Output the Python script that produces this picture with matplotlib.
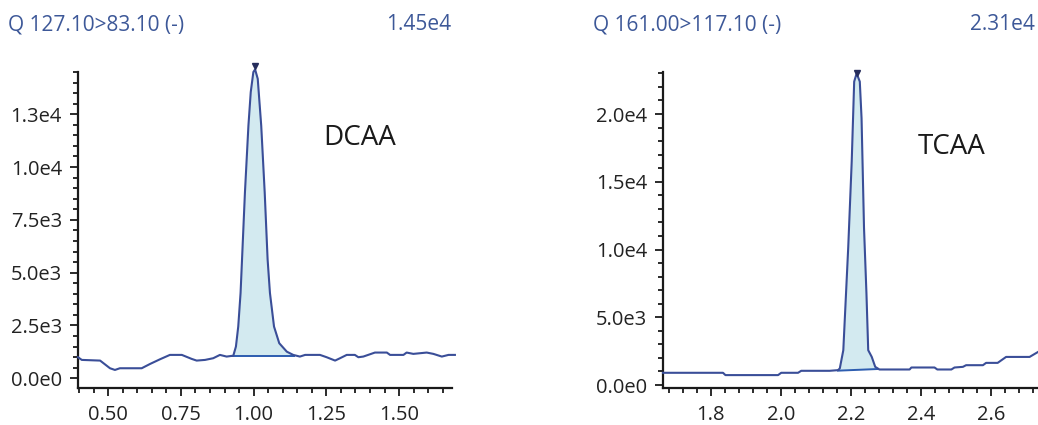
import numpy as np
import matplotlib
matplotlib.use("Agg")
import matplotlib.pyplot as plt
from matplotlib.ticker import MultipleLocator, FixedLocator

plt.rcParams['font.family'] = ['Open Sans', 'DejaVu Sans']

# ---------------- data ----------------
dcaa_time = [0.396, 0.409, 0.472, 0.506, 0.523, 0.540, 0.615, 0.644, 0.678, 0.712,
             0.753, 0.787, 0.804, 0.833, 0.861, 0.884, 0.907, 0.930, 0.939, 0.947,
             0.955, 0.960, 0.970, 0.982, 0.990, 0.999, 1.005, 1.014, 1.026, 1.038,
             1.048, 1.056, 1.070, 1.088, 1.114, 1.136, 1.159, 1.177, 1.228, 1.251,
             1.280, 1.297, 1.320, 1.348, 1.360, 1.377, 1.417, 1.458, 1.469, 1.515,
             1.526, 1.549, 1.595, 1.618, 1.647, 1.670, 1.692]
dcaa_int = [997, 870, 838, 475, 395, 475, 475, 680, 900, 1107,
            1107, 917, 838, 870, 950, 1107, 1028, 1070, 1500, 2450,
            4040, 5620, 8790, 11960, 13550, 14500, 14620, 14180, 11960, 8790,
            5620, 4040, 2450, 1660, 1260, 1107, 1028, 1107, 1107, 997,
            838, 950, 1107, 1107, 997, 1028, 1218, 1218, 1107, 1107,
            1218, 1155, 1218, 1155, 1028, 1107, 1107]
dcaa_base_t = [0.925, 1.140]
dcaa_base_v = [1040, 1040]
dcaa_apex = (1.005, 14800)

tcaa_time = [1.664, 1.835, 1.842, 1.992, 2.001, 2.049, 2.058, 2.139, 2.163, 2.168,
             2.178, 2.192, 2.202, 2.209, 2.216, 2.225, 2.230, 2.237, 2.244, 2.249,
             2.259, 2.269, 2.281, 2.367, 2.372, 2.438, 2.446, 2.486, 2.495, 2.519,
             2.528, 2.576, 2.585, 2.618, 2.642, 2.709, 2.733]
tcaa_int = [902, 902, 732, 732, 902, 902, 1049, 1049, 1098, 1226,
            2570, 10150, 16520, 22390, 23000, 22390, 19700, 11620, 6730, 2570,
            2080, 1340, 1146, 1146, 1293, 1293, 1146, 1146, 1293, 1341,
            1463, 1463, 1634, 1634, 2073, 2073, 2439]
tcaa_base_t = [2.163, 2.275]
tcaa_base_v = [1060, 1180]
tcaa_apex = (2.216, 23050)

dcaa_yticks = [0, 2500, 5000, 7500, 10000, 12500]
dcaa_ylabels = ["0.0e0", "2.5e3", "5.0e3", "7.5e3", "1.0e4", "1.3e4"]
tcaa_yticks = [0, 5000, 10000, 15000, 20000]
tcaa_ylabels = ["0.0e0", "5.0e3", "1.0e4", "1.5e4", "2.0e4"]
dcaa_xticks = [0.50, 0.75, 1.00, 1.25, 1.50]
tcaa_xticks = [1.8, 2.0, 2.2, 2.4, 2.6]

titles = ["Q 127.10>83.10 (-)", "Q 161.00>117.10 (-)"]
maxima = ["1.45e4", "2.31e4"]
compounds = ["DCAA", "TCAA"]

# ---------------- style ----------------
W, H = 1038, 425
LINE = "#3a4e98"
FILL = "#d3eaf0"
BASE = "#2d5db0"
TXT_BLUE = "#3d5898"
APEX = "#262d5c"
TICKFS = 14.5
TITLEFS = 15

fig = plt.figure(figsize=(W / 100, H / 100), dpi=100)


def axes_px(x0, x1, ytop, ybot):
    return fig.add_axes([x0 / W, 1 - ybot / H, (x1 - x0) / W, (ybot - ytop) / H])


def draw(ax, t, v, bt, bv, apex, xlim, ylim, xticks, xminor, yticks, ylabels, yminor,
         xfmt, comp, comp_pos):
    t = np.asarray(t)
    v = np.asarray(v)
    m = (t >= bt[0]) & (t <= bt[1])
    ts = np.concatenate([[bt[0]], t[m], [bt[1]]])
    vs = np.concatenate([[np.interp(bt[0], t, v)], v[m], [np.interp(bt[1], t, v)]])
    base = np.interp(ts, bt, bv)
    ax.fill_between(ts, vs, base, color=FILL, lw=0, zorder=1)
    ax.plot(bt, bv, color=BASE, lw=1.4, zorder=2)
    ax.plot(t, v, color=LINE, lw=1.5, zorder=3, clip_on=False)
    ax.plot([apex[0]], [apex[1]], marker='v', color=APEX, ms=5, clip_on=False, zorder=4)
    ax.set_xlim(*xlim)
    ax.set_ylim(*ylim)
    for s in ['top', 'right']:
        ax.spines[s].set_visible(False)
    for s in ['left', 'bottom']:
        ax.spines[s].set_linewidth(1.6)
        ax.spines[s].set_color('#1a1a1a')
    ax.xaxis.set_major_locator(FixedLocator(xticks))
    ax.set_xticklabels([xfmt.format(x) for x in xticks])
    ax.xaxis.set_minor_locator(MultipleLocator(xminor))
    ax.yaxis.set_major_locator(FixedLocator(yticks))
    ax.set_yticklabels(ylabels)
    ax.yaxis.set_minor_locator(MultipleLocator(yminor))
    ax.tick_params(which='major', length=6, width=1.3, color='#1a1a1a',
                   labelsize=TICKFS, labelcolor='#222222')
    ax.tick_params(axis='x', which='major', pad=6.5)
    ax.tick_params(axis='y', which='major', pad=5.5)
    ax.tick_params(which='minor', length=3.5, width=1.3, color='#1a1a1a')
    ax.text(comp_pos[0], comp_pos[1], comp, transform=ax.transAxes, fontsize=20,
            color='#1a1a1a', ha='left', va='center')


ax1 = axes_px(78, 452, 72, 388)
draw(ax1, dcaa_time, dcaa_int, dcaa_base_t, dcaa_base_v, dcaa_apex,
     (0.396, 1.682), (-460, 14500), dcaa_xticks, 0.05, dcaa_yticks, dcaa_ylabels, 500,
     "{:.2f}", compounds[0], (0.655, 0.79))

ax2 = axes_px(663, 1038, 72, 388)
draw(ax2, tcaa_time, tcaa_int, tcaa_base_t, tcaa_base_v, tcaa_apex,
     (1.664, 2.733), (-220, 23100), tcaa_xticks, 0.04, tcaa_yticks, tcaa_ylabels, 1000,
     "{:.1f}", compounds[1], (0.68, 0.763))

fig.text(8 / W, 1 - 25 / H, titles[0], color=TXT_BLUE, fontsize=TITLEFS, ha='left', va='center')
fig.text(451 / W, 1 - 25 / H, maxima[0], color=TXT_BLUE, fontsize=TITLEFS, ha='right', va='center')
fig.text(593 / W, 1 - 25 / H, titles[1], color=TXT_BLUE, fontsize=TITLEFS, ha='left', va='center')
fig.text(1035 / W, 1 - 25 / H, maxima[1], color=TXT_BLUE, fontsize=TITLEFS, ha='right', va='center')

fig.savefig("out.png", dpi=100)
